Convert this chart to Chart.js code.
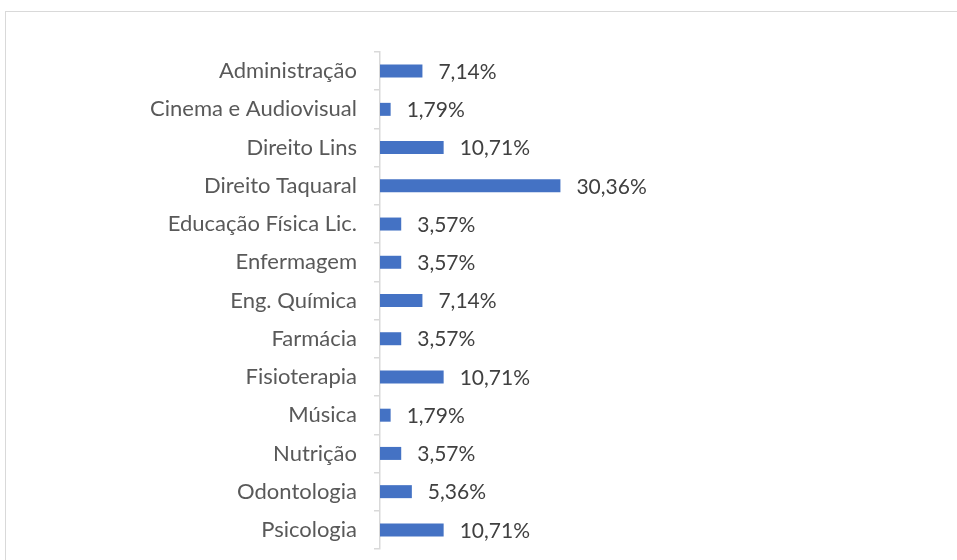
<!DOCTYPE html>
<html>
<head>
<meta charset="utf-8">
<script src="https://cdn.jsdelivr.net/npm/chart.js@4/dist/chart.umd.min.js"></script>
<style>
  html, body { margin: 0; padding: 0; background: #fff; }
  #wrap { position: relative; width: 957px; height: 560px; overflow: hidden; }
  #frame { position: absolute; left: 5px; top: 11px; width: 1000px; height: 600px; border: 1px solid #d9d9d9; box-sizing: border-box; }
  canvas { position: absolute; left: 0; top: 0; }
</style>
</head>
<body>
<div id="wrap">
  <div id="frame"></div>
  <canvas id="c" width="957" height="560"></canvas>
</div>
<script>
const categories = ["Administração", "Cinema e Audiovisual", "Direito Lins", "Direito Taquaral", "Educação Física Lic.", "Enfermagem", "Eng. Química", "Farmácia", "Fisioterapia", "Música", "Nutrição", "Odontologia", "Psicologia"];
const percentages = [7.14, 1.79, 10.71, 30.36, 3.57, 3.57, 7.14, 3.57, 10.71, 1.79, 3.57, 5.36, 10.71];

const FONT = "Lato, 'Open Sans', sans-serif";

const valueLabels = {
  id: 'valueLabels',
  afterDatasetsDraw(chart) {
    const ctx = chart.ctx;
    const meta = chart.getDatasetMeta(0);
    ctx.save();
    ctx.font = "21px " + FONT;
    ctx.fillStyle = "#404040";
    ctx.textAlign = "left";
    ctx.textBaseline = "middle";
    meta.data.forEach((bar, i) => {
      const v = chart.data.datasets[0].data[i];
      const txt = v.toFixed(2).replace('.', ',') + '%';
      ctx.fillText(txt, bar.x + 16, bar.y + 1);
    });
    ctx.restore();
  }
};

new Chart(document.getElementById('c'), {
  type: 'bar',
  data: {
    labels: categories,
    datasets: [{
      data: percentages,
      backgroundColor: '#4472C4',
      borderWidth: 0,
      categoryPercentage: 1,
      barPercentage: 0.34
    }]
  },
  options: {
    indexAxis: 'y',
    responsive: false,
    animation: false,
    layout: { padding: { top: 52, bottom: 11, left: 0, right: 957 - 588 } },
    plugins: { legend: { display: false }, tooltip: { enabled: false } },
    scales: {
      x: { display: false, min: 0, max: 35 },
      y: {
        afterFit(s) { s.width = 380; s.paddingTop = 0; s.paddingBottom = 0; },
        border: { display: true, color: '#d9d9d9', width: 1.5 },
        grid: { drawOnChartArea: false, offset: true, tickLength: 6, color: '#d9d9d9', lineWidth: 1.5 },
        ticks: { padding: 17, color: '#595959', font: { family: FONT, size: 22 } }
      }
    }
  },
  plugins: [valueLabels]
});
</script>
</body>
</html>
